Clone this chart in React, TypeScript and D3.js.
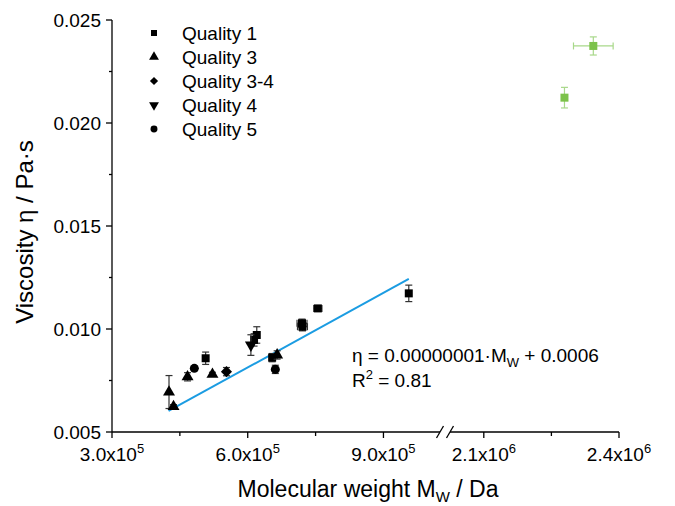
import React, { useEffect, useRef } from 'react';
import * as d3 from 'd3';

const width = 675;
const height = 506;

// Quality 1 (squares)
const q1Mw = [507000, 614000, 620000, 654000, 721000, 720000, 755000, 956000];
const q1Eta = [0.00858, 0.00947, 0.00971, 0.00861, 0.01011, 0.01028, 0.011, 0.01173];
const q1Err = [0.0003, 0.0003, 0.0004, 0.0002, 0.0002, 0.0002, 0.0001, 0.0004];
const q1MwErr = [0, 0, 0, 0, 11000, 11000, 9000, 0];
// Quality 3 (triangles)
const q3Mw = [426000, 436000, 467000, 522000, 665000];
const q3Eta = [0.00694, 0.00623, 0.00768, 0.0078, 0.00874];
const q3Err = [0.0008, 0.0001, 0.0002, 0.0001, 0.0002];
// Quality 3-4 (diamond)
const q34Mw = [553000];
const q34Eta = [0.00793];
const q34Err = [0.0002];
// Quality 4 (down triangle)
const q4Mw = [607000];
const q4Eta = [0.00922];
const q4Err = [0.0005];
// Quality 5 (circles)
const q5Mw = [482000, 661000];
const q5Eta = [0.00809, 0.00804];
const q5Err = [0.0001, 0.0002];
// outliers (green)
const hiMw = [2279000, 2343000];
const hiEta = [0.02123, 0.02374];
const hiErr = [0.0005, 0.00044];
const hiMwErr = [0, 44000];

// linear fit
const fitMw = [425000, 956000];
const fitSlope = 1.207e-8;
const fitIntercept = 0.00089;

const yTicks = [0.005, 0.01, 0.015, 0.02, 0.025];
const yMinor = [0.0075, 0.0125, 0.0175, 0.0225];
const xTicksLo = [300000, 600000, 900000];
const xMinorLo = [450000, 750000];
const xTicksHi = [2100000, 2400000];
const xMinorHi = [2250000];

const legendNames = ['Quality 1', 'Quality 3', 'Quality 3-4', 'Quality 4', 'Quality 5'];

const font = 'Arial, "Liberation Sans", sans-serif';
const green = '#7cc24a';
const blue = '#1b9ce2';

const y = d3.scaleLinear().domain([0.005, 0.025]).range([432, 20]);
const xLo = d3.scaleLinear().domain([300000, 1025000]).range([112, 440]);
const xHi = d3.scaleLinear().domain([2025000, 2400000]).range([450, 619]);
const x = (v: number) => (v < 1500000 ? xLo(v) : xHi(v));

const sym = (type: d3.SymbolType, size: number) => d3.symbol().type(type).size(size)();

const shapes = [
  { d: sym(d3.symbolSquare, 64), rot: 0, leg: sym(d3.symbolSquare, 36) },
  { d: sym(d3.symbolTriangle, 62), rot: 0, leg: sym(d3.symbolTriangle, 42) },
  { d: sym(d3.symbolSquare, 62), rot: 45, leg: sym(d3.symbolSquare, 34) },
  { d: sym(d3.symbolTriangle, 62), rot: 180, leg: sym(d3.symbolTriangle, 42) },
  { d: sym(d3.symbolCircle, 64), rot: 0, leg: sym(d3.symbolCircle, 38) },
];

export default function App() {
  const ref = useRef<SVGSVGElement>(null);

  useEffect(() => {
    const svg = d3.select(ref.current);
    svg.selectAll('*').remove();
    const g = svg.append('g');

    // axes
    const axis = g.append('g').attr('stroke', '#000').attr('stroke-width', 1.3).attr('fill', 'none');
    axis.append('line').attr('x1', 112).attr('x2', 112).attr('y1', 20).attr('y2', 432);
    axis.append('line').attr('x1', 112).attr('x2', xLo.range()[1]).attr('y1', 432).attr('y2', 432);
    axis.append('line').attr('x1', xHi.range()[0]).attr('x2', 619).attr('y1', 432).attr('y2', 432);
    // break marks
    [xLo.range()[1], xHi.range()[0]].forEach(bx => {
      axis.append('line')
        .attr('x1', bx - 3.5).attr('y1', 438)
        .attr('x2', bx + 3.5).attr('y2', 426);
    });

    yTicks.forEach(t => axis.append('line').attr('x1', 106).attr('x2', 112).attr('y1', y(t)).attr('y2', y(t)));
    yMinor.forEach(t => axis.append('line').attr('x1', 109).attr('x2', 112).attr('y1', y(t)).attr('y2', y(t)));
    [...xTicksLo.map(xLo), ...xTicksHi.map(xHi)].forEach(px =>
      axis.append('line').attr('x1', px).attr('x2', px).attr('y1', 432).attr('y2', 438));
    [...xMinorLo.map(xLo), ...xMinorHi.map(xHi)].forEach(px =>
      axis.append('line').attr('x1', px).attr('x2', px).attr('y1', 432).attr('y2', 436));

    // tick labels
    g.selectAll('text.ylab')
      .data(yTicks)
      .enter().append('text')
      .attr('x', 101)
      .attr('y', d => y(d) + 7)
      .attr('text-anchor', 'end')
      .attr('font-family', font)
      .attr('font-size', 19)
      .text(d => d.toFixed(3));

    const xl = [...xTicksLo.map(v => [v, xLo(v)]), ...xTicksHi.map(v => [v, xHi(v)])];
    xl.forEach(([v, px]) => {
      const e = Math.floor(Math.log10(v));
      const m = (v / Math.pow(10, e)).toFixed(1);
      const t = g.append('text')
        .attr('x', px)
        .attr('y', 461)
        .attr('text-anchor', 'middle')
        .attr('font-family', font)
        .attr('font-size', 19);
      t.append('tspan').text(`${m}x10`);
      t.append('tspan').attr('dy', -8).attr('font-size', 13).text(String(e));
    });

    // axis titles
    const xt = g.append('text')
      .attr('x', 368)
      .attr('y', 497)
      .attr('text-anchor', 'middle')
      .attr('font-family', font)
      .attr('font-size', 23);
    xt.append('tspan').text('Molecular weight M');
    xt.append('tspan').attr('dy', 5).attr('font-size', 15).text('W');
    xt.append('tspan').attr('dy', -5).text(' / Da');

    g.append('text')
      .attr('transform', 'translate(33, 232) rotate(-90)')
      .attr('text-anchor', 'middle')
      .attr('font-family', font)
      .attr('font-size', 24)
      .text('Viscosity η / Pa·s');

    // fit line
    const line = d3.line<number>()
      .x(d => x(d))
      .y(d => y(fitSlope * d + fitIntercept));
    g.append('path')
      .attr('d', line(fitMw))
      .attr('fill', 'none')
      .attr('stroke', blue)
      .attr('stroke-width', 2);

    // error bars + markers
    const series = [
      { mw: q1Mw, eta: q1Eta, err: q1Err, mwErr: q1MwErr, shape: 0, color: '#000' },
      { mw: q3Mw, eta: q3Eta, err: q3Err, mwErr: null, shape: 1, color: '#000' },
      { mw: q34Mw, eta: q34Eta, err: q34Err, mwErr: null, shape: 2, color: '#000' },
      { mw: q4Mw, eta: q4Eta, err: q4Err, mwErr: null, shape: 3, color: '#000' },
      { mw: q5Mw, eta: q5Eta, err: q5Err, mwErr: null, shape: 4, color: '#000' },
      { mw: hiMw, eta: hiEta, err: hiErr, mwErr: hiMwErr, shape: 0, color: green },
    ];

    series.forEach(s => {
      const eg = g.append('g')
        .attr('stroke', s.color === '#000' ? '#333' : '#a8d88a')
        .attr('stroke-width', 1.2)
        .attr('fill', 'none');
      s.mw.forEach((m, i) => {
        const px = x(m);
        const y0 = y(s.eta[i] - s.err[i]);
        const y1 = y(s.eta[i] + s.err[i]);
        eg.append('line').attr('x1', px).attr('x2', px).attr('y1', y0).attr('y2', y1);
        eg.append('line').attr('x1', px - 3.5).attr('x2', px + 3.5).attr('y1', y0).attr('y2', y0);
        eg.append('line').attr('x1', px - 3.5).attr('x2', px + 3.5).attr('y1', y1).attr('y2', y1);
        if (s.mwErr && s.mwErr[i] > 0) {
          const x0 = x(m - s.mwErr[i]);
          const x1 = x(m + s.mwErr[i]);
          const py = y(s.eta[i]);
          eg.append('line').attr('x1', x0).attr('x2', x1).attr('y1', py).attr('y2', py);
          eg.append('line').attr('x1', x0).attr('x2', x0).attr('y1', py - 3.5).attr('y2', py + 3.5);
          eg.append('line').attr('x1', x1).attr('x2', x1).attr('y1', py - 3.5).attr('y2', py + 3.5);
        }
      });
      g.selectAll(null)
        .data(s.mw)
        .enter().append('path')
        .attr('d', shapes[s.shape].d)
        .attr('transform', (d, i) => `translate(${x(d)}, ${y(s.eta[i])}) rotate(${shapes[s.shape].rot})`)
        .attr('fill', s.color);
    });

    // legend
    legendNames.forEach((name, i) => {
      const cy = 33 + i * 24;
      g.append('path')
        .attr('d', shapes[i].leg)
        .attr('transform', `translate(154, ${cy}) rotate(${shapes[i].rot})`)
        .attr('fill', '#000');
      g.append('text')
        .attr('x', 182)
        .attr('y', cy + 7)
        .attr('font-family', font)
        .attr('font-size', 19)
        .text(name);
    });

    // fit equation
    const eq = g.append('text')
      .attr('x', 352)
      .attr('y', 362)
      .attr('font-family', font)
      .attr('font-size', 19);
    eq.append('tspan').text('η = 0.00000001·M');
    eq.append('tspan').attr('dy', 5).attr('font-size', 13).text('W');
    eq.append('tspan').attr('dy', -5).text(' + 0.0006');

    const r2 = g.append('text')
      .attr('x', 352)
      .attr('y', 387)
      .attr('font-family', font)
      .attr('font-size', 19);
    r2.append('tspan').text('R');
    r2.append('tspan').attr('dy', -8).attr('font-size', 13).text('2');
    r2.append('tspan').attr('dy', 8).text(' = 0.81');
  }, []);

  return (
    <svg
      ref={ref}
      width={width}
      height={height}
      style={{ position: 'absolute', left: 0, top: 0, background: '#fff' }}
    />
  );
}
